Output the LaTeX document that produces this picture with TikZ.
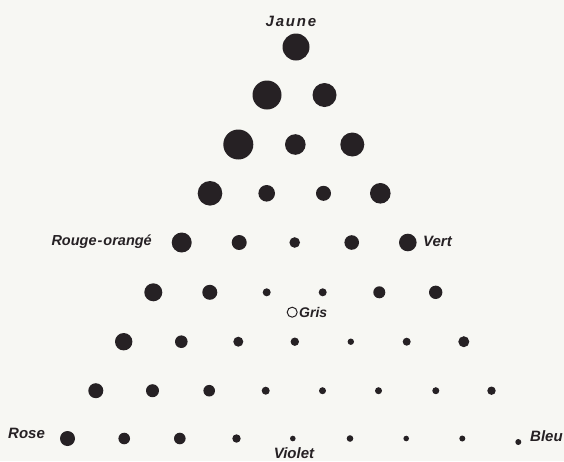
\documentclass[tikz,border=0pt]{standalone}
\usepackage{fontspec}
\newfontfamily\labfont{Liberation Sans}
\newfontfamily\jaunefont{Liberation Sans}[LetterSpace=12]
\definecolor{ink}{HTML}{262124}
\definecolor{paper}{HTML}{F7F7F3}
\begin{document}
\begin{tikzpicture}[x=1pt,y=-1pt,
  dot/.style={circle,fill=ink,inner sep=0pt,minimum size=#1},
  lbl/.style={font=\labfont\bfseries\itshape\fontsize{15}{15}\selectfont,text=ink,inner sep=0pt}]
\fill[paper] (0,0) rectangle (564,461);
\useasboundingbox (0,0) rectangle (564,461);
% row 1
\foreach \x/\d [count=\i] in {296/27}
  \node[dot=\d] (r1c\i) at (\x,47) {};
% row 2
\foreach \x/\d [count=\i] in {267/29,324.5/24}
  \node[dot=\d] (r2c\i) at (\x,95) {};
% row 3
\foreach \x/\d [count=\i] in {238.3/30,295.3/20.6,352.3/24}
  \node[dot=\d] (r3c\i) at (\x,144.5) {};
% row 4
\foreach \x/\d [count=\i] in {210/24.6,266.7/16.6,323.5/15,380.3/20.6}
  \node[dot=\d] (r4c\i) at (\x,193.3) {};
% row 5
\foreach \x/\d [count=\i] in {181.7/20,239.2/15,294.7/10.6,351.7/14.6,407.8/17.6}
  \node[dot=\d] (r5c\i) at (\x,242.5) {};
% row 6
\foreach \x/\d [count=\i] in {153.3/18,209.8/15,266.7/8,322.7/8,379.3/12,435.7/13.4}
  \node[dot=\d] (r6c\i) at (\x,292.3) {};
% row 7
\foreach \x/\d [count=\i] in {123.7/17.4,181.3/12.6,238.3/10,294.8/8.4,350.8/6.4,406.7/8,463.8/11}
  \node[dot=\d] (r7c\i) at (\x,341.7) {};
% row 8
\foreach \x/\d [count=\i] in {95.8/15,152.5/13,209.2/11.6,265.7/8,322.5/7,378.5/7,435.8/7,491.5/8.4}
  \node[dot=\d] (r8c\i) at (\x,390.7) {};
% row 9
\foreach \x/\d [count=\i] in {67.5/15,124.2/11.6,179.8/11.6,236.5/8.4,292.8/5.6,350/6.6,406.2/5.6,462.3/6}
  \node[dot=\d] (r9c\i) at (\x,438.5) {};
\node[dot=6] (r9c9) at (518.3,442) {};
% grey centre
\node[circle,draw=ink,line width=1pt,minimum size=10pt,inner sep=0pt] (gris) at (292.2,312.2) {};
% labels
\node[lbl,font=\jaunefont\bfseries\itshape\fontsize{15}{15}\selectfont,anchor=base] (jaune) at (291,26) {Jaune};
\node[lbl,font=\labfont\bfseries\itshape\fontsize{14.5}{15}\selectfont,anchor=base east] (rouge) at (152,245.5) {Rouge\kern1pt-\kern1pt orangé};
\node[lbl,anchor=base west] (vert) at (423,246.5) {Vert};
\node[lbl,font=\labfont\bfseries\itshape\fontsize{14}{14}\selectfont,anchor=base west] (gristxt) at (299,317) {Gris};
\node[lbl,anchor=base west] (rose) at (8,438.5) {Rose};
\node[lbl,anchor=base] (violet) at (294,458.5) {Violet};
\node[lbl,anchor=base west] (bleu) at (530,441) {Bleu};
\end{tikzpicture}
\end{document}
